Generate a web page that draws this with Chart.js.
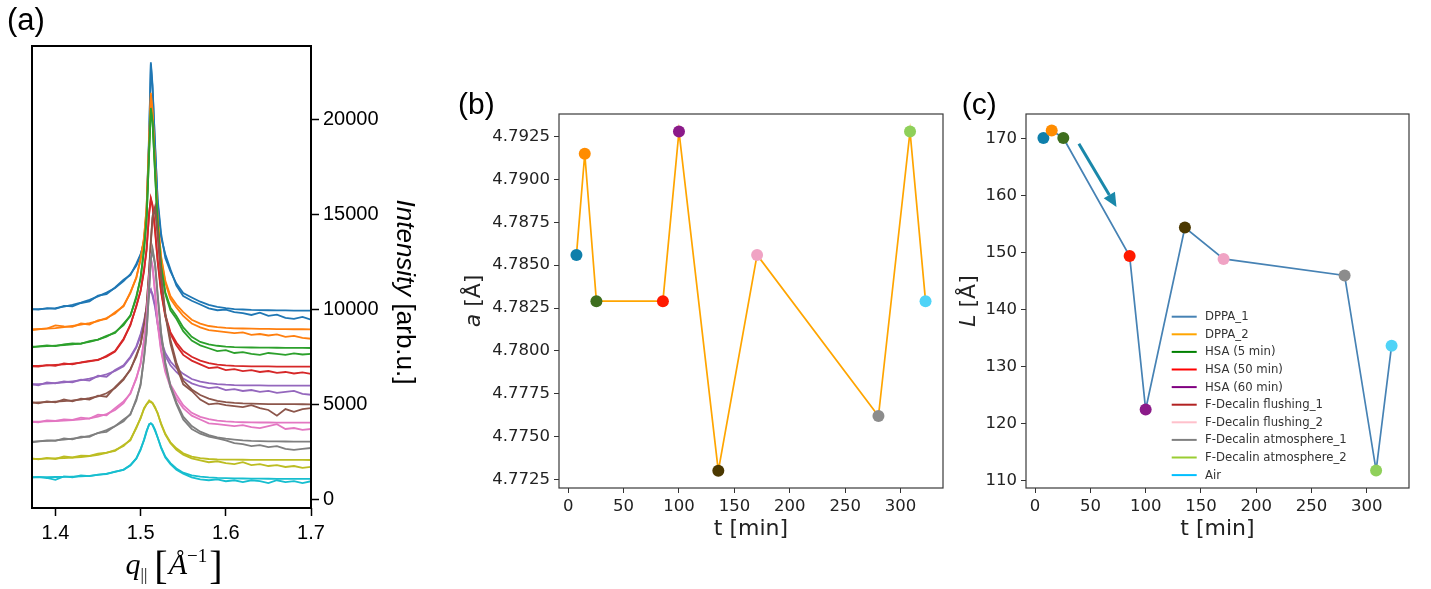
<!DOCTYPE html>
<html><head><meta charset="utf-8">
<script src="https://cdn.jsdelivr.net/npm/chart.js@4.4.1/dist/chart.umd.min.js"></script>
<style>
html,body{margin:0;padding:0;background:#fff;width:1431px;height:589px;overflow:hidden;position:relative}
canvas{position:absolute;top:0}
</style></head><body>
<canvas id="ca" width="440" height="589" style="left:0;width:440px;height:589px"></canvas>
<canvas id="cb" width="510" height="589" style="left:440px;width:510px;height:589px"></canvas>
<canvas id="cc" width="481" height="589" style="left:950px;width:481px;height:589px"></canvas>
<script>
// ---------- Panel (a): intensity profiles (data + fit), offset curves ----------
const qGrid = [1.3725,1.38,1.39,1.40,1.41,1.42,1.43,1.44,1.45,1.46,1.47,1.48,1.488,1.495,1.50,1.504,1.507,1.51,1.512,1.514,1.517,1.52,1.524,1.529,1.535,1.542,1.55,1.56,1.57,1.58,1.59,1.60,1.61,1.62,1.63,1.64,1.65,1.66,1.67,1.68,1.69,1.70];
const fitBlue = [10000,10010,10030,10060,10140,10230,10350,10500,10680,10880,11120,11480,11850,12300,12850,13600,15000,19000,23000,21800,18500,15800,14000,12700,12000,11350,10850,10620,10400,10230,10130,10060,10010,9990,9970,9960,9950,9945,9940,9935,9930,9926];
const dataBlue = [10010,9980,10060,10020,10180,10150,10330,10420,10720,10800,11150,11560,11800,12400,12900,13500,15200,19300,22900,21600,18700,15600,13800,12900,12100,11250,10700,10450,10250,10050,9950,9980,9850,9800,9700,9820,9650,9720,9550,9500,9600,9450];
const fitOrange = [8950,8960,8980,9010,9060,9120,9190,9270,9380,9540,9780,10200,10850,11700,12600,13800,15300,18800,21400,20500,17500,14800,12800,11500,10700,10250,9850,9450,9250,9120,9060,9020,9000,8990,8980,8970,8965,8960,8955,8950,8950,8947];
const dataOrange = [8900,8950,8990,9150,9100,9080,9250,9200,9420,9500,9850,10150,10900,11650,12700,13700,15400,18900,21200,20300,17600,14700,12700,11400,10550,10100,9650,9250,9050,8900,8850,8800,8750,8780,8650,8700,8620,8680,8550,8600,8500,8450];
const fitGreen = [8030,8040,8060,8090,8120,8160,8210,8290,8400,8560,8800,9170,9680,10600,11700,13100,14800,18200,20600,19900,17200,14500,12300,10900,10100,9650,9050,8550,8280,8150,8080,8040,8010,8000,7990,7985,7980,7975,7970,7967,7965,7963];
const dataGreen = [8000,8050,8100,8060,8150,8200,8180,8330,8400,8600,8750,9250,9650,10700,11600,13200,14700,18300,20500,19800,17100,14400,12200,10800,9950,9500,8850,8350,8100,7950,7800,7850,7700,7750,7650,7600,7700,7650,7600,7680,7620,7650];
const fitRed = [7016,7025,7045,7070,7100,7140,7190,7260,7350,7500,7780,8400,9200,10150,11000,12000,13200,15000,15850,15500,14200,12600,11000,9700,8800,8250,7800,7500,7300,7170,7090,7050,7025,7010,7000,6995,6990,6987,6985,6983,6981,6979];
const dataRed = [7000,6980,7060,7020,7150,7100,7200,7290,7320,7550,7800,8450,9150,10200,10950,12100,13100,15100,15800,15400,14100,12500,10900,9600,8700,8100,7600,7300,7100,6900,6950,6800,6850,6750,6800,6700,6750,6650,6700,6620,6680,6600];
const fitPurple = [6053,6065,6090,6120,6160,6210,6270,6350,6450,6580,6750,7000,7450,8000,8600,9300,10000,10800,11000,10800,10200,9300,8400,7700,7250,6900,6600,6330,6190,6110,6060,6030,6010,6000,5995,5990,5987,5985,5983,5981,5980,5979];
const dataPurple = [6050,6000,6150,6100,6200,6150,6300,6250,6500,6450,6800,7050,7500,8050,8700,9400,10100,10900,11050,10700,10100,9200,8300,7550,7050,6700,6350,6100,5950,5850,5900,5750,5800,5700,5750,5650,5700,5600,5650,5700,5550,5500];
const fitBrown = [5084,5095,5115,5140,5170,5205,5250,5320,5420,5580,5850,6300,6850,7500,8200,9100,10200,12000,13500,14800,15300,14000,11800,9800,8400,7200,6250,5780,5490,5300,5180,5110,5070,5045,5030,5020,5012,5008,5005,5003,5001,5000];
const dataBrown = [5100,5050,5150,5100,5250,5150,5300,5250,5450,5400,5900,6350,6800,7600,8150,9200,10100,12100,13600,14900,15400,13900,11700,9700,8200,7000,6050,5700,5250,5000,5050,4950,4900,4850,4950,4800,4700,4400,4750,4600,4750,4800];
const fitPink = [4084,4092,4105,4120,4140,4165,4200,4255,4350,4480,4700,5060,5600,6350,7200,8300,9600,11600,12700,12300,10900,9300,7900,6800,6050,5500,4950,4550,4340,4220,4140,4095,4070,4055,4047,4042,4040,4038,4036,4034,4033,4032];
const dataPink = [4080,4050,4150,4120,4200,4180,4300,4250,4450,4420,4800,5150,5550,6400,7100,8400,9500,11500,12600,12200,10800,9200,7800,6700,5900,5300,4800,4400,4200,4000,3950,3900,3850,3900,3800,3750,3850,3950,3700,3750,3650,3700];
const fitGray = [3032,3045,3070,3100,3140,3190,3250,3340,3480,3640,3850,4100,4500,5200,6100,7400,8800,11000,12600,13200,12400,10800,8800,7200,6000,5100,4350,3850,3560,3380,3260,3190,3140,3100,3075,3060,3050,3045,3040,3037,3034,3032];
const dataGray = [3000,3050,3100,3080,3200,3150,3300,3280,3500,3550,3850,4200,4450,5300,6000,7500,8700,11100,12600,13100,12300,10700,8700,7100,5900,5000,4200,3700,3450,3300,3200,3100,2950,2900,2800,2850,2750,2800,2650,2600,2650,2700];
const fitOlive = [2121,2125,2135,2150,2170,2195,2225,2270,2340,2440,2590,2800,3150,3750,4300,4750,5000,5130,5150,5080,4850,4500,4000,3450,3000,2680,2420,2240,2160,2120,2100,2090,2085,2080,2077,2075,2073,2072,2071,2070,2069,2068];
const dataOlive = [2150,2100,2180,2120,2250,2200,2300,2280,2400,2450,2550,2850,3100,3800,4250,4800,5000,5200,5100,5050,4800,4550,3950,3400,2950,2600,2350,2150,2050,1950,2000,1900,1850,1950,1800,1850,1750,1800,1700,1750,1650,1700];
const fitCyan = [1158,1160,1165,1172,1180,1190,1205,1230,1280,1350,1440,1560,1780,2150,2600,3150,3600,3930,4000,3930,3650,3250,2750,2250,1900,1620,1400,1260,1190,1150,1125,1110,1100,1093,1088,1084,1080,1077,1074,1072,1070,1068];
const dataCyan = [1150,1180,1120,1020,1200,1160,1250,1220,1300,1320,1450,1550,1800,2150,2650,3100,3550,3950,4000,3900,3600,3250,2700,2200,1850,1550,1350,1150,1050,1000,1050,950,1000,900,1000,950,850,1000,900,950,850,950];
const qTicks = [1.4, 1.5, 1.6, 1.7];
const intensityTicks = [0, 5000, 10000, 15000, 20000];

// ---------- Panels (b) and (c) ----------
const tMin = [7.5, 15, 25.5, 85.5, 100, 135.5, 170.5, 280, 308.5, 322.5];
const latticeA = [4.7856, 4.7915, 4.7829, 4.7829, 4.7928, 4.7730, 4.7856, 4.7762, 4.7928, 4.7829];
const sizeL = [170.1, 171.4, 170.1, 149.4, 122.5, 154.4, 148.9, 146.0, 111.8, 133.7];
const tTicks = [0, 50, 100, 150, 200, 250, 300];
const aTicks = [4.7725, 4.7750, 4.7775, 4.7800, 4.7825, 4.7850, 4.7875, 4.7900, 4.7925];
const LTicks = [110, 120, 130, 140, 150, 160, 170];
const legendLabels = ['DPPA_1','DPPA_2','HSA (5 min)','HSA (50 min)','HSA (60 min)','F-Decalin flushing_1','F-Decalin flushing_2','F-Decalin atmosphere_1','F-Decalin atmosphere_2','Air'];
const arrowTL = [[39.6, 169.1], [73.6, 158.0]];

const tab10 = ['#1f77b4','#ff7f0e','#2ca02c','#d62728','#9467bd','#8c564b','#e377c2','#7f7f7f','#bcbd22','#17becf'];
const markerColors = ['#0f7fab','#ff8c00','#3e6e1e','#ff1a00','#8b1a89','#4b3800','#f0a3c4','#8c8c8c','#8fd05a','#4fd3f7'];
const legendColors = ['#4682b4','#ffa500','#008000','#ff0000','#800080','#b22222','#ffc0cb','#808080','#9acd32','#00bfff'];

function drawRich(ctx, parts, x, y, rot) {
  ctx.save();
  ctx.translate(x, y);
  ctx.rotate(rot || 0);
  ctx.textBaseline = 'alphabetic';
  ctx.textAlign = 'left';
  let total = 0;
  const w = parts.map(p => { ctx.font = p.font; const m = ctx.measureText(p.text).width + (p.sp || 0); total += m; return m; });
  let cx = -total / 2;
  parts.forEach((p, i) => { ctx.font = p.font; ctx.fillStyle = p.color || '#000'; ctx.fillText(p.text, cx, p.dy || 0); cx += w[i]; });
  ctx.restore();
}
function pts(xs, ys) { return xs.map((x, i) => ({x: x, y: ys[i]})); }
function setTicks(arr) { return s => { s.ticks = arr.map(v => ({value: v})); }; }

// ---------- Chart A ----------
const seriesA = [[fitBlue,dataBlue],[fitOrange,dataOrange],[fitGreen,dataGreen],[fitRed,dataRed],[fitPurple,dataPurple],[fitBrown,dataBrown],[fitPink,dataPink],[fitGray,dataGray],[fitOlive,dataOlive],[fitCyan,dataCyan]];
const dsA = [];
seriesA.forEach((pair, i) => {
  pair.forEach((arr, j) => {
    dsA.push({data: pts(qGrid, arr), borderColor: tab10[i], borderWidth: 1.8, pointRadius: 0, tension: 0, fill: false, order: 100 - i * 2 - j});
  });
});
const decA = {id: 'decA', afterDraw(chart) {
  const ctx = chart.ctx, a = chart.chartArea;
  ctx.save();
  ctx.strokeStyle = '#000'; ctx.lineWidth = 2;
  ctx.strokeRect(a.left, a.top, a.right - a.left, a.bottom - a.top);
  ctx.fillStyle = '#000'; ctx.font = '31px "Liberation Sans"'; ctx.textBaseline = 'alphabetic'; ctx.textAlign = 'left';
  ctx.fillText('(a)', 7, 29.5);
  ctx.restore();
  drawRich(ctx, [
    {text: 'q', font: 'italic 30px "Liberation Serif"'},
    {text: '||', font: '17px "Liberation Serif"', dy: 6, sp: 7},
    {text: '[', font: '40px "Liberation Serif"', dy: 5, sp: 1},
    {text: 'Å', font: 'italic 30px "Liberation Serif"'},
    {text: '−1', font: '19px "Liberation Serif"', dy: -12, sp: 2},
    {text: ']', font: '40px "Liberation Serif"', dy: 5}
  ], 174, 574, 0);
  drawRich(ctx, [
    {text: 'Intensity', font: 'italic 26px "Liberation Sans"'},
    {text: ' [arb.u.]', font: '26px "Liberation Sans"'}
  ], 397, 292, Math.PI / 2);
}};
new Chart(document.getElementById('ca'), {
  type: 'line',
  data: {datasets: dsA},
  options: {
    responsive: false, animation: false, devicePixelRatio: 1,
    layout: {padding: {left: 32, top: 46, right: 0, bottom: 0}},
    plugins: {legend: {display: false}, tooltip: {enabled: false}},
    scales: {
      x: {type: 'linear', min: 1.3725, max: 1.70,
        afterFit: s => { s.height = 81; }, afterBuildTicks: setTicks(qTicks),
        ticks: {font: {family: 'Liberation Sans', size: 20}, color: '#000', padding: 5, maxRotation: 0, autoSkip: false, callback: v => v.toFixed(1)},
        grid: {drawOnChartArea: false, tickLength: 8, tickColor: '#000', tickWidth: 1.5}, border: {display: false}},
      y: {type: 'linear', position: 'right', min: -460, max: 23860,
        afterFit: s => { s.width = 129; }, afterBuildTicks: setTicks(intensityTicks),
        ticks: {font: {family: 'Liberation Sans', size: 20}, color: '#000', padding: 4, autoSkip: false, callback: v => String(v)},
        grid: {drawOnChartArea: false, tickLength: 8, tickColor: '#000', tickWidth: 1.5}, border: {display: false}}
    }
  },
  plugins: [decA]
});

// ---------- common for B and C ----------
const tickFont = {family: 'DejaVu Sans', size: 16.5};
function frameAndTitle(chart, yParts, yX, label, labelX) {
  const ctx = chart.ctx, a = chart.chartArea;
  ctx.save();
  ctx.strokeStyle = '#3a3a3a'; ctx.lineWidth = 1.2;
  ctx.strokeRect(a.left, a.top, a.right - a.left, a.bottom - a.top);
  ctx.fillStyle = '#000'; ctx.font = '30px "Liberation Sans"'; ctx.textBaseline = 'alphabetic'; ctx.textAlign = 'left';
  ctx.fillText(label, labelX, 113.5);
  ctx.restore();
  drawRich(ctx, [{text: 't [min]', font: '22px "DejaVu Sans"', color: '#222'}], (a.left + a.right) / 2, 535, 0);
  drawRich(ctx, yParts, yX, (a.top + a.bottom) / 2, -Math.PI / 2);
}
function axisOpts(min, max, ticksArr, fmt, fitFn) {
  return {type: 'linear', min: min, max: max, afterFit: fitFn, afterBuildTicks: setTicks(ticksArr),
    ticks: {font: tickFont, color: '#222', padding: 4, maxRotation: 0, autoSkip: false, callback: fmt},
    grid: {drawOnChartArea: false, tickLength: 5, tickColor: '#333', tickWidth: 1}, border: {display: false}};
}

// ---------- Chart B ----------
const decB = {id: 'decB', afterDraw(chart) {
  frameAndTitle(chart, [
    {text: 'a', font: 'italic 22px "DejaVu Sans"', color: '#222'},
    {text: ' [Å]', font: '22px "DejaVu Sans"', color: '#222'}
  ], 40, '(b)', 18);
}};
new Chart(document.getElementById('cb'), {
  type: 'line',
  data: {datasets: [{data: pts(tMin, latticeA), borderColor: '#ffa500', borderWidth: 1.7, tension: 0, fill: false,
    pointRadius: 6, pointBorderWidth: 0, pointBackgroundColor: markerColors, pointBorderColor: markerColors}]},
  options: {
    responsive: false, animation: false, devicePixelRatio: 1,
    layout: {padding: {left: 0, top: 114, right: 7, bottom: 0}},
    plugins: {legend: {display: false}, tooltip: {enabled: false}},
    scales: {
      x: axisOpts(-8.25, 338.25, tTicks, v => String(v), s => { s.height = 101; }),
      y: axisOpts(4.7720, 4.79382, aTicks, v => v.toFixed(4), s => { s.width = 119; })
    }
  },
  plugins: [decB]
});

// ---------- Chart C ----------
const decC = {id: 'decC', afterDatasetsDraw(chart) {
  const ctx = chart.ctx, xs = chart.scales.x, ys = chart.scales.y;
  const x0 = xs.getPixelForValue(arrowTL[0][0]), y0 = ys.getPixelForValue(arrowTL[0][1]);
  const x1 = xs.getPixelForValue(arrowTL[1][0]), y1 = ys.getPixelForValue(arrowTL[1][1]);
  const ang = Math.atan2(y1 - y0, x1 - x0), hl = 14, hw = 6.5;
  const bx = x1 - hl * Math.cos(ang), by = y1 - hl * Math.sin(ang);
  ctx.save();
  ctx.strokeStyle = '#1a88aa'; ctx.fillStyle = '#1a88aa'; ctx.lineWidth = 3;
  ctx.beginPath(); ctx.moveTo(x0, y0); ctx.lineTo(bx, by); ctx.stroke();
  ctx.beginPath(); ctx.moveTo(x1, y1);
  ctx.lineTo(bx + hw * Math.sin(ang), by - hw * Math.cos(ang));
  ctx.lineTo(bx - hw * Math.sin(ang), by + hw * Math.cos(ang));
  ctx.closePath(); ctx.fill();
  ctx.font = '11.7px "DejaVu Sans"'; ctx.textBaseline = 'middle'; ctx.textAlign = 'left';
  legendLabels.forEach((lab, i) => {
    const yy = 316.7 + i * 17.6;
    ctx.strokeStyle = legendColors[i]; ctx.lineWidth = 2;
    ctx.beginPath(); ctx.moveTo(221.7, yy); ctx.lineTo(246.7, yy); ctx.stroke();
    ctx.fillStyle = '#333'; ctx.fillText(lab, 255, yy + 0.5);
  });
  ctx.restore();
}, afterDraw(chart) {
  frameAndTitle(chart, [
    {text: 'L', font: 'italic 22px "DejaVu Sans"', color: '#222'},
    {text: ' [Å]', font: '22px "DejaVu Sans"', color: '#222'}
  ], 25.4, '(c)', 11.7);
}};
new Chart(document.getElementById('cc'), {
  type: 'line',
  data: {datasets: [{data: pts(tMin, sizeL), borderColor: '#4682b4', borderWidth: 1.7, tension: 0, fill: false,
    pointRadius: 6, pointBorderWidth: 0, pointBackgroundColor: markerColors, pointBorderColor: markerColors}]},
  options: {
    responsive: false, animation: false, devicePixelRatio: 1,
    layout: {padding: {left: 0, top: 114, right: 22, bottom: 0}},
    plugins: {legend: {display: false}, tooltip: {enabled: false}},
    scales: {
      x: axisOpts(-8.25, 338.25, tTicks, v => String(v), s => { s.height = 101; }),
      y: axisOpts(108.75, 174.3, LTicks, v => String(v), s => { s.width = 76; })
    }
  },
  plugins: [decC]
});
</script>
</body></html>
